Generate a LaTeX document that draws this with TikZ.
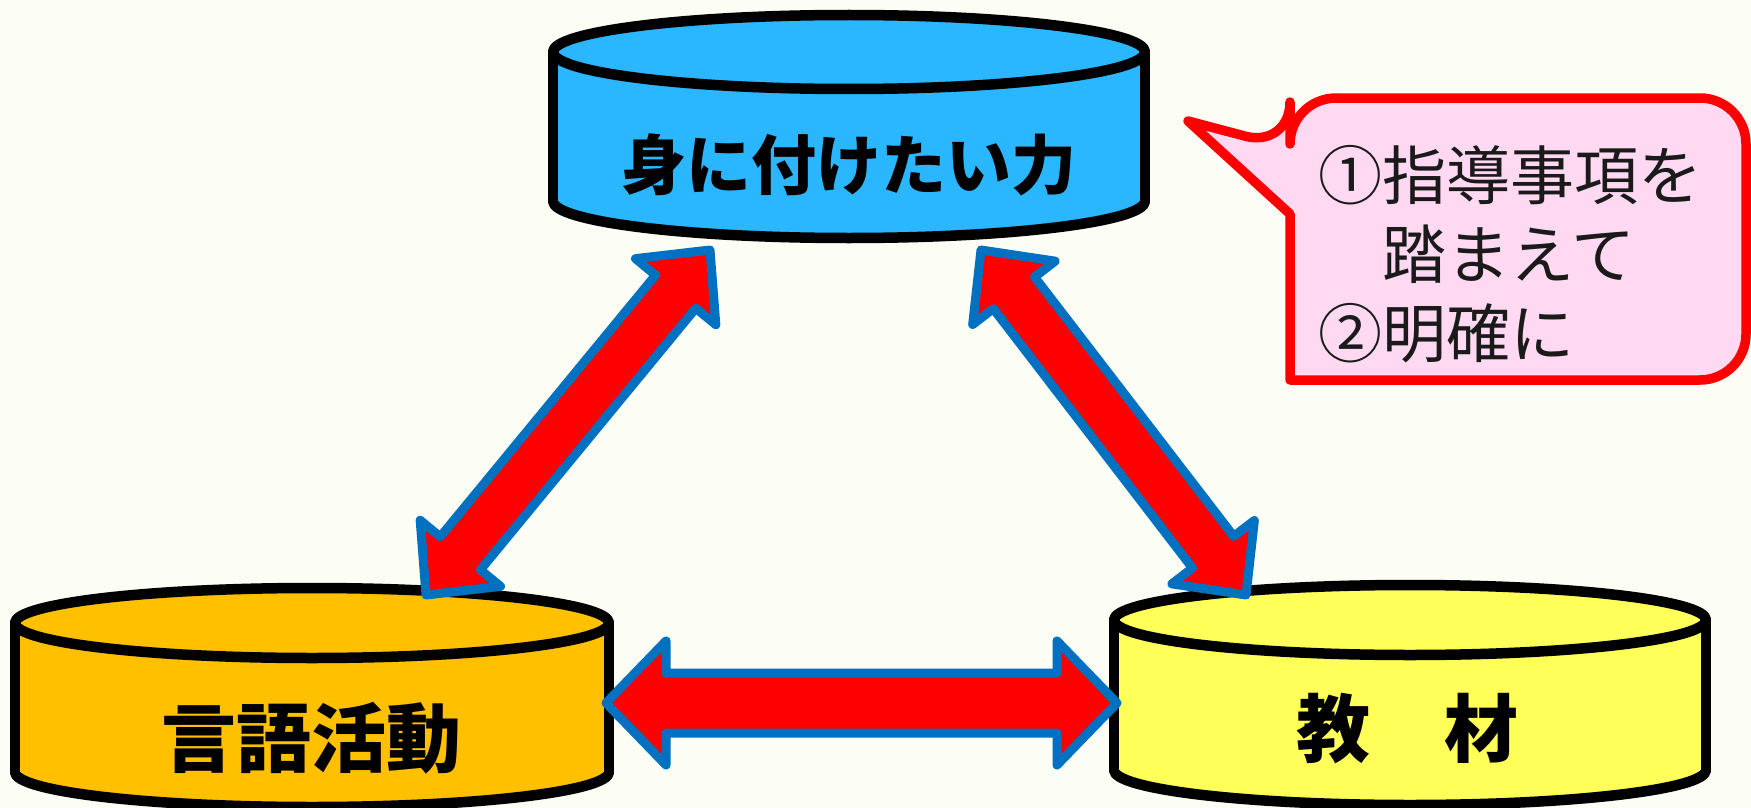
\documentclass[tikz,border=0pt]{standalone}
\usepackage{fontspec}
\newfontfamily\jp{Noto Sans CJK JP}
\usetikzlibrary{calc}
\definecolor{bgc}{RGB}{252,254,245}
\definecolor{topc}{RGB}{43,183,255}
\definecolor{leftc}{RGB}{255,192,0}
\definecolor{rightc}{RGB}{255,255,89}
\definecolor{arrowfill}{RGB}{255,0,0}
\definecolor{arrowline}{RGB}{0,112,192}
\definecolor{notefill}{RGB}{255,217,242}
\definecolor{noteline}{RGB}{255,0,0}
\definecolor{notetext}{RGB}{26,26,26}
\tikzset{
  cylline/.style={draw=black,line width=10.5pt,line join=round,line cap=round},
  cyltext/.style={inner sep=0pt,font=\jp\bfseries\fontsize{#1}{#1}\selectfont,text=black},
  blockarrow/.style={fill=arrowfill,draw=arrowline,line width=9pt,line join=round},
  notebox/.style={fill=notefill,draw=noteline,line width=9.5pt,line join=round},
  notetext/.style={inner sep=0pt,align=left,text=notetext,font=\jp\fontsize{64}{79}\selectfont}
}
% cylinder: cx, rx, top cy, bottom cy, ry, colour
\newcommand\drawcyl[6]{%
  \fill[#6] (#1,#4) ellipse [x radius=#2, y radius=#5];
  \draw[cylline] (#1,#4) ellipse [x radius=#2, y radius=#5];
  \fill[#6] (#1-#2,#3) rectangle (#1+#2,#4);
  \draw[cylline] (#1-#2,#3) -- (#1-#2,#4);
  \draw[cylline] (#1+#2,#3) -- (#1+#2,#4);
  \filldraw[fill=#6,cylline] (#1,#3) ellipse [x radius=#2, y radius=#5];
}
% double block arrow: tip A, tip B, head length, head half width, shaft half width
\newcommand\dblarrow[5]{%
  \draw[blockarrow] let \p1=($(#2)-(#1)$), \n2={atan2(\y1,\x1)} in
    (#1) -- ($(#1)+(\n2:#3pt)+(\n2+90:#4pt)$)
         -- ($(#1)+(\n2:#3pt)+(\n2+90:#5pt)$)
         -- ($(#2)+(\n2:-#3pt)+(\n2+90:#5pt)$)
         -- ($(#2)+(\n2:-#3pt)+(\n2+90:#4pt)$)
         -- (#2)
         -- ($(#2)+(\n2:-#3pt)+(\n2-90:#4pt)$)
         -- ($(#2)+(\n2:-#3pt)+(\n2-90:#5pt)$)
         -- ($(#1)+(\n2:#3pt)+(\n2-90:#5pt)$)
         -- ($(#1)+(\n2:#3pt)+(\n2-90:#4pt)$)
         -- cycle;
}
\begin{document}
\begin{tikzpicture}[x=1pt,y=-1pt]
\fill[bgc] (0,0) rectangle (1751,808);
\useasboundingbox (0,0) rectangle (1751,808);

% cylinders
\drawcyl{849}{296}{52}{201}{37}{topc}
\drawcyl{312}{297}{623}{772}{35}{leftc}
\drawcyl{1410}{296}{620}{770}{35}{rightc}

\node[cyltext=65] (power) at (849,165) {身に付けたい力};
\node[cyltext=75] (activity) at (311,738) {言語活動};
\node[cyltext=74] (material) at (1407,729) {教　材};

% arrow end points
\coordinate (pA) at (710,250);
\coordinate (aA) at (426,595);
\coordinate (pB) at (981,250);
\coordinate (mB) at (1246,595);
\coordinate (aC) at (606,703);
\coordinate (mC) at (1117,703);

\dblarrow{aA}{pA}{54}{52}{26}
\dblarrow{pB}{mB}{54}{52}{26}
\dblarrow{aC}{mC}{60}{62}{30}

% callout
\draw[notebox] (1188,121) -- (1290,214) -- (1290,380) [rounded corners=46]
  -- (1746,380) -- (1746,98) -- (1290,98) -- (1290,148) [sharp corners] -- cycle;
\node[notetext,anchor=west] (note) at (1318,254) {①指導事項を\\　踏まえて\\②明確に};
\end{tikzpicture}
\end{document}
